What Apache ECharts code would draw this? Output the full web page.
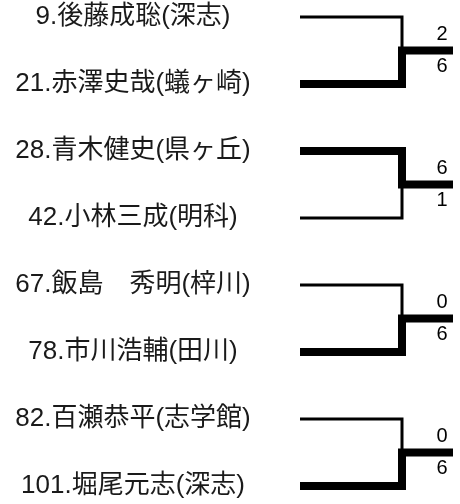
<!DOCTYPE html>
<html>
<head>
<meta charset="utf-8">
<script src="https://cdn.jsdelivr.net/npm/echarts@6/dist/echarts.min.js"></script>
<style>html,body{margin:0;padding:0;background:#fff}#c{width:460px;height:504px}</style>
</head>
<body>
<div id="c"></div>
<script>
const players = [
  '9.後藤成聡(深志)', '21.赤澤史哉(蟻ヶ崎)',
  '28.青木健史(県ヶ丘)', '42.小林三成(明科)',
  '67.飯島\u3000秀明(梓川)', '78.市川浩輔(田川)',
  '82.百瀬恭平(志学館)', '101.堀尾元志(深志)'
];
const topScores = [2, 6, 0, 0];
const bottomScores = [6, 1, 6, 6];
const matches = [0, 1, 2, 3];

const ROW0 = 17, ROWSTEP = 67;
const LINE_X0 = 300, JOIN_X = 402, OUT_X = 453, LABEL_X = 133, SCORE_X = 442;
const THIN = 3, THICK = 8;
const rowY = i => ROW0 + i * ROWSTEP;

const chart = echarts.init(document.getElementById('c'), null, {renderer: 'canvas'});

function renderItem(params, api) {
  const m = api.value(0);
  const yT = rowY(m * 2), yB = rowY(m * 2 + 1), yM = (yT + yB) / 2;
  const topWin = topScores[m] > bottomScores[m];
  const P = (x, y) => api.coord([x, y]);
  const children = [];
  const segs = [
    {pts: [P(LINE_X0, yT), P(JOIN_X, yT), P(JOIN_X, yM)], w: topWin ? THICK : THIN},
    {pts: [P(LINE_X0, yB), P(JOIN_X, yB), P(JOIN_X, yM)], w: topWin ? THIN : THICK}
  ];
  segs.sort((a, b) => a.w - b.w);
  segs.forEach(s => children.push({
    type: 'polyline', shape: {points: s.pts},
    style: {stroke: '#000', lineWidth: s.w, fill: null, lineJoin: 'miter', lineCap: 'butt'}
  }));
  const a = P(JOIN_X - THICK / 2, yM), b = P(OUT_X, yM);
  children.push({
    type: 'line', shape: {x1: a[0], y1: a[1], x2: b[0], y2: b[1]},
    style: {stroke: '#000', lineWidth: THICK, lineCap: 'butt'}
  });
  const ts = P(SCORE_X, yM - 16), bs = P(SCORE_X, yM + 16);
  const sFont = {fontSize: 20, fontFamily: '"Liberation Sans", Arial, sans-serif', fill: '#000', align: 'center', verticalAlign: 'middle'};
  children.push({type: 'text', x: ts[0], y: ts[1], style: Object.assign({text: String(topScores[m])}, sFont)});
  children.push({type: 'text', x: bs[0], y: bs[1], style: Object.assign({text: String(bottomScores[m])}, sFont)});
  [m * 2, m * 2 + 1].forEach(i => {
    const p = P(LABEL_X, rowY(i));
    children.push({type: 'text', x: p[0], y: p[1], style: {text: players[i], fontSize: 26, fontFamily: '"Liberation Sans", "Noto Sans CJK JP", sans-serif', fill: '#1a1a1a', align: 'center', verticalAlign: 'middle'}});
  });
  return {type: 'group', children};
}

chart.setOption({
  animation: false,
  grid: {left: 0, right: 0, top: 0, bottom: 0},
  xAxis: {type: 'value', min: 0, max: 460, show: false},
  yAxis: {type: 'value', min: 0, max: 504, inverse: true, show: false},
  series: [{type: 'custom', renderItem, data: matches.map(m => [m]), clip: false}]
});
</script>
</body>
</html>
